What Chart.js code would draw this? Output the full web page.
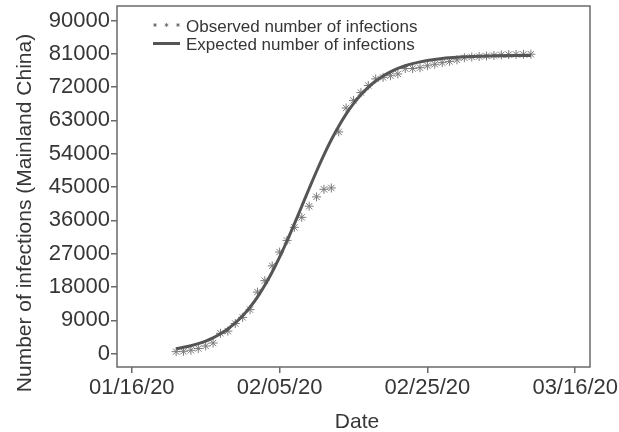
<!DOCTYPE html>
<html>
<head>
<meta charset="utf-8">
<script src="https://cdn.jsdelivr.net/npm/chart.js@4.4.1/dist/chart.umd.min.js"></script>
<style>
  body { margin: 0; background: #fff; }
  canvas { display: block; }
</style>
</head>
<body>
<canvas id="chart" width="619" height="432"></canvas>
<script>
const dates = [
  '01/22/20','01/23/20','01/24/20','01/25/20','01/26/20','01/27/20','01/28/20','01/29/20','01/30/20','01/31/20',
  '02/01/20','02/02/20','02/03/20','02/04/20','02/05/20','02/06/20','02/07/20','02/08/20','02/09/20','02/10/20',
  '02/11/20','02/12/20','02/13/20','02/14/20','02/15/20','02/16/20','02/17/20','02/18/20','02/19/20','02/20/20',
  '02/21/20','02/22/20','02/23/20','02/24/20','02/25/20','02/26/20','02/27/20','02/28/20','02/29/20',
  '03/01/20','03/02/20','03/03/20','03/04/20','03/05/20','03/06/20','03/07/20','03/08/20','03/09/20','03/10/20'
]
const observed = [
  548, 643, 920, 1406, 2075, 2877, 5509, 6087, 8141, 9802,
  11891, 16630, 19716, 23707, 27440, 30587, 34110, 36814, 39829, 42354,
  44386, 44759, 59895, 66358, 68413, 70513, 72434, 74211, 74619, 75077,
  75550, 77001, 77022, 77241, 77754, 78166, 78600, 78928, 79356,
  79932, 80136, 80261, 80386, 80537, 80690, 80770, 80823, 80860, 80887
]
const expected = [
  1353, 1709, 2156, 2717, 3415, 4285, 5359, 6678, 8290, 10234,
  12557, 15291, 18457, 22058, 26068, 30427, 35043, 39822, 44604, 49267,
  53676, 57765, 61452, 64707, 67527, 69929, 71945, 73620, 74997, 76117,
  77026, 77754, 78343, 78811, 79183, 79478, 79713, 79899, 80047,
  80163, 80255, 80327, 80385, 80431, 80466, 80495, 80517, 80535, 80548
]
const xTickLabels = ['01/16/20', '02/05/20', '02/25/20', '03/16/20']
const xTickDays = [0, 20, 40, 60]
const yTickValues = [0, 9000, 18000, 27000, 36000, 45000, 54000, 63000, 72000, 81000, 90000]

const textColor = '#363636'
const fontFamily = '"Liberation Sans", Arial, sans-serif'

// days after 01/16/20
function dayOffset(s) {
  const p = s.split('/')
  const t = Date.UTC(2000 + Number(p[2]), Number(p[0]) - 1, Number(p[1]))
  return Math.round((t - Date.UTC(2020, 0, 16)) / 86400000)
}

const obsPoints = dates.map((d, i) => ({ x: dayOffset(d), y: observed[i] }))
const expPoints = dates.map((d, i) => ({ x: dayOffset(d), y: expected[i] }))

const frame = {
  id: 'frame',
  afterDraw(chart) {
    const ctx = chart.ctx
    const a = chart.chartArea
    ctx.save()
    ctx.strokeStyle = '#6a6a6a'
    ctx.lineWidth = 1.5
    ctx.strokeRect(a.left, a.top, a.right - a.left, a.bottom - a.top)

    // axis titles
    ctx.fillStyle = textColor
    ctx.font = '21px ' + fontFamily
    ctx.textAlign = 'center'
    ctx.textBaseline = 'alphabetic'
    ctx.fillText('Date', 357, 428)
    ctx.translate(31, 213)
    ctx.rotate(-Math.PI / 2)
    ctx.fillText('Number of infections (Mainland China)', 0, 0)
    ctx.restore()

    // legend
    ctx.save()
    ctx.fillStyle = textColor
    ctx.font = '17px ' + fontFamily
    ctx.textAlign = 'left'
    ctx.fillText('Observed number of infections', 186, 32)
    ctx.fillText('Expected number of infections', 186, 50)
    ctx.strokeStyle = '#707070'
    ctx.lineWidth = 1
    ;[155, 166.5, 178].forEach(x => {
      Chart.helpers.drawPoint(ctx, { pointStyle: 'star', radius: 1.8, rotation: 0, borderWidth: 1 }, x, 25)
    })
    ctx.strokeStyle = '#555'
    ctx.lineWidth = 3
    ctx.beginPath()
    ctx.moveTo(153, 43.5)
    ctx.lineTo(180, 43.5)
    ctx.stroke()
    ctx.restore()
  }
}

new Chart(document.getElementById('chart'), {
  type: 'scatter',
  data: {
    datasets: [
      {
        label: 'Expected number of infections',
        data: expPoints,
        showLine: true,
        borderColor: '#555555',
        borderWidth: 3,
        pointRadius: 0,
        tension: 0.4,
        fill: false
      },
      {
        label: 'Observed number of infections',
        data: obsPoints,
        pointStyle: 'star',
        pointRadius: 4.5,
        borderWidth: 1,
        borderColor: '#7a7a7a',
        backgroundColor: '#7a7a7a'
      }
    ]
  },
  options: {
    responsive: false,
    animation: false,
    layout: { padding: { top: 6, right: 29, left: 0, bottom: 0 } },
    plugins: {
      legend: { display: false },
      tooltip: { enabled: false }
    },
    scales: {
      x: {
        type: 'linear',
        min: -2,
        max: 62,
        afterBuildTicks: s => { s.ticks = xTickDays.map(v => ({ value: v })) },
        afterFit: s => { s.height = 65; s.paddingLeft = 0; s.paddingRight = 0 },
        border: { display: false },
        grid: { drawOnChartArea: false, drawTicks: true, tickLength: 6, tickColor: '#6a6a6a', lineWidth: 1.5 },
        ticks: {
          color: textColor,
          font: { family: fontFamily, size: 22 },
          padding: 2,
          maxRotation: 0,
          callback: (v, i) => xTickLabels[i]
        }
      },
      y: {
        min: -3600,
        max: 93900,
        afterBuildTicks: s => { s.ticks = yTickValues.map(v => ({ value: v })) },
        afterFit: s => { s.width = 117; s.paddingTop = 0; s.paddingBottom = 0 },
        border: { display: false },
        grid: { drawOnChartArea: false, drawTicks: true, tickLength: 6, tickColor: '#6a6a6a', lineWidth: 1.5 },
        ticks: {
          color: textColor,
          font: { family: fontFamily, size: 22 },
          padding: 1,
          callback: v => String(v)
        }
      }
    }
  },
  plugins: [frame]
})
</script>
</body>
</html>
